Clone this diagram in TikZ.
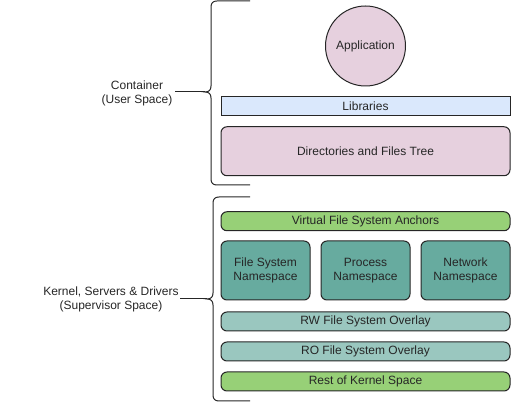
\documentclass[tikz,border=0pt]{standalone}
\usepackage{fontspec}
\setmainfont{Liberation Sans}
\definecolor{pinkf}{HTML}{E6D0DE}
\definecolor{bluef}{HTML}{DAE8FC}
\definecolor{greenf}{HTML}{97D077}
\definecolor{tealf}{HTML}{67AB9F}
\definecolor{lteal}{HTML}{9AC7BF}
\definecolor{linec}{HTML}{333333}
\begin{document}
\begin{tikzpicture}[x=0.75pt,y=-0.75pt,
  every node/.style={font=\fontsize{9}{10.5}\selectfont, text=black!85},
  box/.style={draw=black!85, line width=0.75pt, rounded corners=4.5pt, inner sep=0pt, align=center},
  brace/.style={draw=black!85, line width=0.75pt},
  lbl/.style={align=center, inner sep=0pt}]
\useasboundingbox (0,0) rectangle (511,402);
% Container part
\node[draw=black!85, line width=0.75pt, circle, fill=pinkf, minimum size=60pt, inner sep=0pt] (app) at (365.5,46) {Application};
\node[draw=black!85, line width=0.75pt, fill=bluef, minimum width=216.75pt, minimum height=14.25pt, inner sep=0pt] (lib) at (365.5,106.5) {Libraries};
\node[box, fill=pinkf, minimum width=216.75pt, minimum height=36.75pt] (dir) at (365.5,151.25) {Directories and Files Tree};
% Kernel part
\node[box, fill=greenf, minimum width=216.75pt, minimum height=14.25pt] (vfs) at (365.5,221.25) {Virtual File System Anchors};
\node[box, fill=tealf, minimum width=66.75pt, minimum height=44.25pt] (fsn) at (265.5,270.5) {File System\\Namespace};
\node[box, fill=tealf, minimum width=66.75pt, minimum height=44.25pt] (pn) at (365.5,270.5) {Process\\Namespace};
\node[box, fill=tealf, minimum width=66.75pt, minimum height=44.25pt] (nn) at (465.5,270.5) {Network\\Namespace};
\node[box, fill=lteal, minimum width=216.75pt, minimum height=14.25pt] (rw) at (365.5,321.5) {RW File System Overlay};
\node[box, fill=lteal, minimum width=216.75pt, minimum height=14.25pt] (ro) at (365.5,351.5) {RO File System Overlay};
\node[box, fill=greenf, minimum width=216.75pt, minimum height=14.25pt] (rest) at (365.5,381.5) {Rest of Kernel Space};
% Braces
\coordinate (ctip) at (205,92);
\draw[brace] (250,1) -- (217,1) .. controls (213,1) and (211,3) .. (211,7) -- (211,86)
  .. controls (211,90) and (209,92) .. (ctip) .. controls (209,92) and (211,94) .. (211,98)
  -- (211,179) .. controls (211,183) and (213,185) .. (217,185) -- (250,185);
\coordinate (ktip) at (207,299);
\draw[brace] (250,197) -- (219,197) .. controls (215,197) and (213,199) .. (213,203) -- (213,293)
  .. controls (213,297) and (211,299) .. (ktip) .. controls (211,299) and (213,301) .. (213,305)
  -- (213,395) .. controls (213,399) and (215,401) .. (219,401) -- (250,401);
% Labels
\node[lbl] (cl) at (137,93.5) {Container\\(User Space)};
\node[lbl] (kl) at (111,299.5) {Kernel, Servers \& Drivers\\(Supervisor Space)};
\draw[brace] (ctip) -- (175,92);
\draw[brace] (ktip) -- (180,299);
\end{tikzpicture}
\end{document}
